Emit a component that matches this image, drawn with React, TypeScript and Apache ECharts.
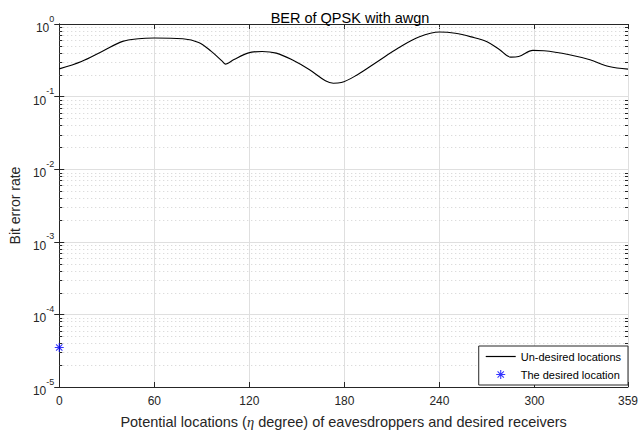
import React, { useEffect, useRef } from "react";
import * as echarts from "echarts";

const chartTitle = "BER of QPSK with awgn";
const xTickValues = [0, 60, 120, 180, 240, 300, 359];
const yTickExponents = [0, -1, -2, -3, -4, -5];

const angleDeg = [0, 14, 27, 40, 50, 60, 78, 88, 96, 103, 105, 110, 119, 128, 137, 147, 158, 168, 173, 178, 188, 201, 214, 227, 240, 250, 260, 270, 278, 285, 290, 299, 306, 322, 335, 347, 359];
const berUndesired = [0.241, 0.305, 0.419, 0.576, 0.627, 0.64, 0.627, 0.558, 0.419, 0.305, 0.28, 0.321, 0.397, 0.419, 0.397, 0.321, 0.234, 0.165, 0.153, 0.156, 0.199, 0.305, 0.466, 0.661, 0.775, 0.745, 0.665, 0.57, 0.442, 0.35, 0.357, 0.433, 0.428, 0.377, 0.321, 0.26, 0.239];

const desiredDeg = [0];
const desiredBer = [3.5e-5];

const seriesNames = ["Un-desired locations", "The desired location"];

const FONT = "'Liberation Sans', Arial, Helvetica, sans-serif";
const TXT = "#262626";

const asterisk =
  "path://M8.8 0 L11.2 0 L11.2 20 L8.8 20 Z M0 8.8 L20 8.8 L20 11.2 L0 11.2 Z " +
  "M3.85 2.15 L17.85 16.15 L16.15 17.85 L2.15 3.85 Z M17.85 3.85 L3.85 17.85 L2.15 16.15 L16.15 2.15 Z";
const lineIcon = "path://M0 0 L30 0 L30 1.2 L0 1.2 Z";

// minor tick positions (2..9 per decade)
const minorTicks: number[] = [];
for (let e = -5; e < 0; e++) {
  for (let k = 2; k <= 9; k++) minorTicks.push(k * Math.pow(10, e));
}

export default function App() {
  const ref = useRef<HTMLDivElement>(null);
  useEffect(() => {
    if (!ref.current) return;
    const chart = echarts.init(ref.current, undefined, { renderer: "svg" });
    const xAxisCommon = {
      type: "value",
      min: 0,
      max: 359,
      interval: 60,
    };
    chart.setOption({
      animation: false,
      backgroundColor: "#ffffff",
      title: {
        text: chartTitle,
        left: 345,
        textAlign: "center",
        top: 5,
        textStyle: { fontFamily: FONT, fontSize: 14.5, fontWeight: "normal", color: "#000" },
      },
      grid: { left: 58, right: 9, top: 24, bottom: 46, containLabel: false },
      legend: {
        data: [
          { name: seriesNames[0], icon: lineIcon },
          { name: seriesNames[1] },
        ],
        orient: "vertical",
        right: 13,
        bottom: 49,
        itemWidth: 30,
        itemHeight: 9,
        itemGap: 7,
        padding: [5, 7, 5, 7],
        backgroundColor: "#ffffff",
        borderColor: TXT,
        borderWidth: 1,
        borderRadius: 0,
        textStyle: { fontFamily: FONT, fontSize: 11, color: "#000" },
      },
      xAxis: [
        {
          ...xAxisCommon,
          position: "bottom",
          name: "{n|Potential locations (}{i|η}{n| degree) of eavesdroppers and desired receivers}",
          nameLocation: "middle",
          nameGap: 27,
          nameTextStyle: {
            rich: {
              n: { fontFamily: FONT, fontSize: 14.5, color: TXT },
              i: { fontFamily: "'Liberation Serif', 'Times New Roman', serif", fontStyle: "italic", fontSize: 14.5, color: TXT },
            },
          },
          axisLine: { show: true, lineStyle: { color: TXT, width: 1 } },
          axisTick: { show: true, inside: true, length: 5, lineStyle: { color: TXT } },
          axisLabel: {
            show: true,
            margin: 8,
            fontFamily: FONT,
            fontSize: 12,
            color: TXT,
            formatter: (v: number) => (xTickValues.includes(v) ? String(v) : ""),
          },
          splitLine: { show: true, lineStyle: { color: "#dfdfdf", width: 1 } },
        },
        {
          ...xAxisCommon,
          position: "top",
          axisLine: { show: true, lineStyle: { color: TXT, width: 1 } },
          axisTick: { show: true, inside: true, length: 5, lineStyle: { color: TXT } },
          axisLabel: { show: false },
          splitLine: { show: false },
        },
      ],
      yAxis: [
        {
          type: "log",
          logBase: 10,
          min: 1e-5,
          max: 1,
          position: "left",
          name: "Bit error rate",
          nameLocation: "middle",
          nameGap: 36,
          nameTextStyle: { fontFamily: FONT, fontSize: 14, color: TXT },
          axisLine: { show: true, lineStyle: { color: TXT, width: 1 } },
          axisTick: { show: true, inside: true, length: 5, lineStyle: { color: TXT } },
          axisLabel: {
            margin: 5,
            formatter: (v: number) => {
              const e = Math.round(Math.log10(v));
              if (!yTickExponents.includes(e)) return "";
              return "{b|10}{s|" + (e === 0 ? "0" : "-" + Math.abs(e)) + "}";
            },
            rich: {
              b: { fontFamily: FONT, fontSize: 12, color: TXT, lineHeight: 20, verticalAlign: "bottom" },
              s: { fontFamily: FONT, fontSize: 9, color: TXT, lineHeight: 20, verticalAlign: "top" },
            },
          },
          splitLine: { show: true, lineStyle: { color: "#dfdfdf", width: 1 } },
        },
        {
          type: "log",
          logBase: 10,
          min: 1e-5,
          max: 1,
          position: "right",
          axisLine: { show: true, lineStyle: { color: TXT, width: 1 } },
          axisTick: { show: true, inside: true, length: 5, lineStyle: { color: TXT } },
          axisLabel: { show: false },
          splitLine: { show: false },
        },
      ],
      series: [
        {
          type: "custom",
          name: "minor",
          silent: true,
          z: 1,
          xAxisIndex: 0,
          yAxisIndex: 0,
          data: minorTicks.map((v) => [0, v]),
          renderItem: (params: any, api: any) => {
            const cs = params.coordSys;
            const y = Math.round(api.coord([0, api.value(1)])[1]) + 0.5;
            const x0 = cs.x;
            const x1 = cs.x + cs.width;
            return {
              type: "group",
              children: [
                {
                  type: "line",
                  shape: { x1: x0, y1: y, x2: x1, y2: y },
                  style: { stroke: "#d0d0d0", lineWidth: 1, lineDash: [1, 3] },
                },
                {
                  type: "line",
                  shape: { x1: x0, y1: y, x2: x0 + 3, y2: y },
                  style: { stroke: TXT, lineWidth: 1 },
                },
                {
                  type: "line",
                  shape: { x1: x1 - 3, y1: y, x2: x1, y2: y },
                  style: { stroke: TXT, lineWidth: 1 },
                },
              ],
            };
          },
        },
        {
          name: seriesNames[0],
          type: "line",
          data: angleDeg.map((d, i) => [d, berUndesired[i]]),
          smooth: 0.35,
          showSymbol: false,
          symbol: "none",
          z: 5,
          lineStyle: { color: "#000000", width: 1.1 },
          itemStyle: { color: "#000000" },
        },
        {
          name: seriesNames[1],
          type: "scatter",
          data: desiredDeg.map((d, i) => [d, desiredBer[i]]),
          symbol: asterisk,
          symbolSize: 9,
          z: 6,
          clip: false,
          itemStyle: { color: "#0000ff" },
        },
      ],
    });
    return () => chart.dispose();
  }, []);
  return (
    <div
      ref={ref}
      style={{ position: "fixed", left: 0, top: 0, width: 641, height: 434 }}
    />
  );
}
